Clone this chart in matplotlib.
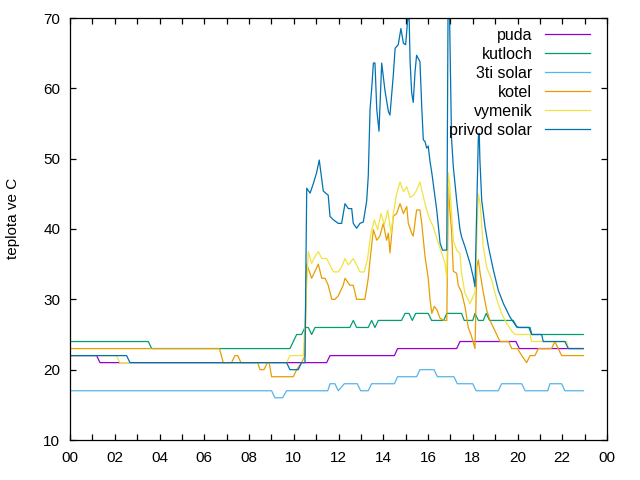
import matplotlib
matplotlib.use("Agg")
import matplotlib.pyplot as plt
from matplotlib.ticker import MultipleLocator

plt.rcParams["font.family"] = ["Liberation Sans", "DejaVu Sans"]
plt.rcParams["font.size"] = 11

# hours of the day (sample times) and temperatures in C
puda_t = [0, 1.19, 1.34, 11.47, 11.62, 14.5, 14.64, 17.28, 17.43, 19.93, 20.08, 22.94]
puda_v = [22, 22, 21, 21, 22, 22, 23, 23, 24, 24, 23, 23]

kutloch_t = [0, 3.5, 3.65, 9.83, 10.13, 10.35, 10.5, 10.65, 10.8, 10.95,
             12.51, 12.66, 12.81, 13.33, 13.48, 13.63, 13.78, 14.82, 14.97, 15.15,
             15.3, 15.45, 16.01, 16.16, 16.7, 16.84, 17.5, 17.62, 18.0, 18.1,
             18.25, 18.47, 18.6, 18.75, 19.81, 19.99, 20.56, 20.64, 22.94]
kutloch_v = [24, 24, 23, 23, 25, 25, 26, 26, 25, 26,
             26, 27, 26, 26, 27, 26, 27, 27, 28, 28,
             27, 28, 28, 27, 27, 28, 28, 27, 27, 28,
             27, 27, 28, 27, 27, 26, 26, 25, 25]

solar3_t = [0, 9.01, 9.16, 9.5, 9.68, 11.52, 11.62, 11.84, 11.99, 12.26,
            12.84, 12.99, 13.33, 13.48, 14.5, 14.64, 15.49, 15.64, 16.27, 16.42,
            17.16, 17.31, 18.0, 18.15, 19.14, 19.29, 20.19, 20.34, 21.35, 21.45,
            21.97, 22.12, 22.94]
solar3_v = [17, 17, 16, 16, 17, 17, 18, 18, 17, 18,
            18, 17, 17, 18, 18, 19, 19, 20, 20, 19,
            19, 18, 18, 17, 17, 18, 18, 17, 17, 18,
            18, 17, 17]

kotel_t = [0, 6.68, 6.85, 7.22, 7.37, 7.5, 7.64, 8.39, 8.49, 8.67,
           8.82, 8.9, 9.01, 9.98, 10.13, 10.35, 10.5, 10.58, 10.8, 10.95,
           11.1, 11.25, 11.4, 11.54, 11.7, 11.84, 11.99, 12.21, 12.29, 12.51,
           12.66, 12.81, 13.18, 13.33, 13.41, 13.56, 13.71, 13.85, 14.0, 14.15,
           14.23, 14.3, 14.38, 14.45, 14.6, 14.75, 14.9, 15.05, 15.12, 15.27,
           15.34, 15.49, 15.64, 15.72, 15.87, 16.01, 16.09, 16.17, 16.28, 16.4,
           16.54, 16.72, 16.84, 16.91, 16.98, 17.05, 17.13, 17.28, 17.35, 17.5,
           17.65, 17.8, 17.95, 18.1, 18.18, 18.25, 18.33, 18.47, 18.62, 18.77,
           18.92, 19.07, 19.22, 19.6, 19.74, 20.0, 20.19, 20.41, 20.56, 20.78,
           20.93, 21.52, 21.67, 21.82, 21.97, 22.94]
kotel_v = [23, 23, 21, 21, 22, 22, 21, 21, 20, 20,
           21, 21, 19, 19, 20, 21, 22, 35, 33, 34,
           35, 33, 33, 32, 30, 30, 30.5, 32, 33, 32,
           32, 30, 30, 33, 35.6, 39.9, 38.4, 39, 40.8, 38.4,
           39.4, 36.6, 39.4, 41.8, 42.2, 43.6, 42.2, 43.2, 40.8, 39.4,
           39, 42.7, 42.7, 40.8, 36, 33, 30, 28, 29, 28.5,
           27.3, 27, 27, 46, 42.5, 40, 34, 33.7, 32, 31,
           29, 26, 24.7, 23, 34.6, 35.6, 33.7, 31, 28.5, 27,
           26, 25, 24, 24, 23, 23, 22, 21, 22, 22,
           23, 23, 24, 23, 22, 22]

vymenik_t = [0, 2.08, 2.23, 9.68, 9.83, 10.43, 10.65, 10.8, 10.95, 11.1,
             11.25, 11.47, 11.62, 11.77, 11.99, 12.14, 12.29, 12.44, 12.66, 12.81,
             12.96, 13.15, 13.3, 13.45, 13.6, 13.75, 13.9, 14.05, 14.2, 14.35,
             14.45, 14.6, 14.75, 14.9, 15.05, 15.2, 15.34, 15.49, 15.64, 15.79,
             15.94, 16.09, 16.24, 16.46, 16.61, 16.76, 16.84, 16.91, 16.98, 17.13,
             17.28, 17.43, 17.5, 17.65, 17.88, 18.1, 18.25, 18.33, 18.47, 18.62,
             18.84, 19.07, 19.29, 19.51, 19.74, 19.89, 20.56, 20.63, 22.2, 22.27,
             22.94]
vymenik_v = [22, 22, 21, 21, 22, 22, 36.8, 35.1, 36.1, 36.8,
             35.8, 35.8, 34.9, 33.9, 33.9, 34.6, 35.8, 34.9, 35.8, 34.9,
             33.9, 33.9, 35.8, 39.4, 41.3, 39.9, 42.2, 40.6, 42.7, 39.4,
             42.2, 45, 46.7, 45.3, 46, 44.5, 44.8, 45.5, 46.7, 44.6,
             42.7, 41.3, 40.3, 38, 36.6, 35.1, 33, 48, 46, 38.4,
             37, 36.5, 33.7, 30.9, 29.4, 31, 45, 43.6, 37.5, 34.6,
             32.8, 30, 28, 26.6, 25.5, 25, 25, 24, 24, 23,
             23]

privod_t = [0, 2.53, 2.68, 9.68, 9.83, 10.2, 10.35, 10.5, 10.58, 10.73,
            10.88, 11.02, 11.14, 11.32, 11.54, 11.62, 11.77, 11.99, 12.14, 12.29,
            12.44, 12.59, 12.66, 12.81, 12.96, 13.11, 13.26, 13.33, 13.41, 13.48,
            13.56, 13.63, 13.71, 13.81, 13.93, 14.08, 14.23, 14.3, 14.45, 14.53,
            14.67, 14.79, 14.9, 15.0, 15.09, 15.15, 15.2, 15.27, 15.34, 15.42,
            15.49, 15.64, 15.72, 15.79, 15.87, 15.94, 16.01, 16.09, 16.17, 16.39,
            16.54, 16.65, 16.84, 16.91, 16.98, 17.05, 17.13, 17.28, 17.43, 17.5,
            17.65, 17.88, 18.02, 18.1, 18.25, 18.29, 18.32, 18.4, 18.55, 18.7,
            18.92, 19.14, 19.37, 19.66, 19.96, 20.07, 20.51, 20.63, 21.08, 21.15,
            22.12, 22.27, 22.94]
privod_v = [22, 22, 21, 21, 20, 20, 21, 21, 45.8, 45.1,
            46.5, 48, 49.8, 45.4, 44.8, 41.8, 41.3, 40.8, 40.8, 43.6,
            42.9, 42.9, 40.8, 40.1, 40.8, 41, 44, 47.5, 57, 59.8,
            63.6, 63.6, 57, 53.9, 63.6, 59.6, 56.7, 56.2, 61.9, 65.7,
            66.2, 68.5, 66.4, 66.2, 69.7, 71, 63.8, 59.4, 58, 62.3,
            64.7, 63.8, 57.4, 52.7, 52.4, 51.5, 51.8, 49.6, 48, 42.7,
            38, 37, 37, 80, 67, 53, 48.9, 44.1, 39.9, 38.9,
            37.5, 35.1, 33.2, 31.8, 53.1, 53.6, 49.8, 44.1, 40.3, 37.5,
            34.2, 31.3, 29.4, 27.5, 26.1, 26, 26, 25, 25, 24,
            24, 23, 23]

series = [
    ("puda", puda_t, puda_v, "#9400d3"),
    ("kutloch", kutloch_t, kutloch_v, "#009e73"),
    ("3ti solar", solar3_t, solar3_v, "#56b4e9"),
    ("kotel", kotel_t, kotel_v, "#e69f00"),
    ("vymenik", vymenik_t, vymenik_v, "#f0e442"),
    ("privod solar", privod_t, privod_v, "#0072b2"),
]

hour_labels = ["00", "02", "04", "06", "08", "10", "12", "14", "16", "18", "20", "22", "00"]

fig = plt.figure(figsize=(6.4, 4.8), dpi=100)
ax = fig.add_axes([70 / 640, 40 / 480, 537 / 640, 422 / 480])

for name, t, v, color in series:
    ax.plot(t, v, color=color, lw=0.9, label=name)

ax.set_xlim(0, 24)
ax.set_ylim(10, 70)
ax.set_xticks(range(0, 25, 2))
ax.set_xticklabels(hour_labels)
ax.xaxis.set_minor_locator(MultipleLocator(1))
ax.set_yticks(range(10, 71, 10))

ax.tick_params(which="both", direction="in", top=True, right=True, width=0.9)
ax.tick_params(which="both", length=4)
ax.tick_params(axis="y", pad=7)
ax.tick_params(axis="x", pad=8)
for s in ax.spines.values():
    s.set_linewidth(0.9)

ax.set_ylabel("teplota ve C")
ax.yaxis.set_label_coords(-0.093, 0.525)

# gnuplot-like key: labels right-aligned, samples after them
ax.legend(loc="upper right", bbox_to_anchor=(0.968, 0.977), frameon=False,
          markerfirst=False, handlelength=2.8, handletextpad=0.8,
          labelspacing=0.25, borderpad=0, borderaxespad=0, fontsize=11.5)

fig.savefig("out.png", dpi=100)
